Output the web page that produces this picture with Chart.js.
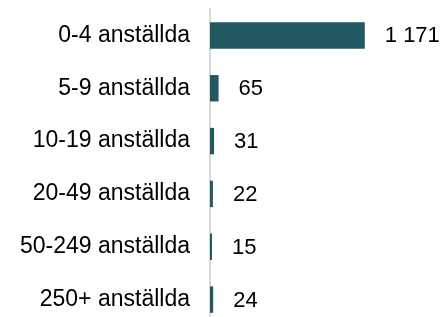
<!DOCTYPE html>
<html>
<head>
<meta charset="utf-8">
<script src="https://cdn.jsdelivr.net/npm/chart.js@4.4.1/dist/chart.umd.min.js"></script>
<style>
  html, body { margin: 0; padding: 0; background: #fff; overflow: hidden; }
  .wrap { width: 440px; height: 326px; position: relative; }
</style>
</head>
<body>
<div class="wrap"><canvas id="bar-chart"></canvas></div>
<script>
// DATA
var categories = ['0-4 anställda', '5-9 anställda', '10-19 anställda',
  '20-49 anställda', '50-249 anställda', '250+ anställda']
var companies = [1171, 65, 31, 22, 15, 24]

var barColor = '#215862'

function formatNumber(v) {
  return String(v).replace(/\B(?=(\d{3})+(?!\d))/g, ' ')
}

// value labels to the right of each bar
var valueLabels = {
  id: 'valueLabels',
  afterDatasetsDraw: function(chart) {
    var ctx = chart.ctx
    var meta = chart.getDatasetMeta(0)
    ctx.save()
    ctx.font = '22px "Liberation Sans", Arial, sans-serif'
    ctx.fillStyle = '#000'
    ctx.textAlign = 'left'
    ctx.textBaseline = 'middle'
    meta.data.forEach(function(bar, i) {
      ctx.fillText(formatNumber(companies[i]), bar.x + 20, bar.y + 1)
    })
    ctx.restore()
  }
}

var barChart = new Chart(document.getElementById('bar-chart'), {
  type: 'bar',
  data: {
    labels: categories,
    datasets: [{
      data: companies,
      backgroundColor: barColor,
      borderWidth: 0,
      barPercentage: 0.5,
      categoryPercentage: 1
    }]
  },
  options: {
    indexAxis: 'y',
    responsive: true,
    maintainAspectRatio: false,
    animation: false,
    layout: { padding: { top: 9, right: 0, bottom: 0, left: 0 } },
    plugins: {
      legend: { display: false },
      tooltip: { enabled: false }
    },
    scales: {
      x: {
        display: false,
        min: 0,
        max: 1740
      },
      y: {
        afterFit: function(scale) {
          scale.width = 210
          scale.paddingTop = 0
          scale.paddingBottom = 0
        },
        grid: { display: false, drawTicks: true, tickLength: 17 },
        border: { display: true, color: '#d9d9d9', width: 2 },
        ticks: {
          padding: 3,
          color: '#000',
          font: { family: '"Liberation Sans", Arial, sans-serif', size: 23 }
        }
      }
    }
  },
  plugins: [valueLabels]
})
</script>
</body>
</html>
